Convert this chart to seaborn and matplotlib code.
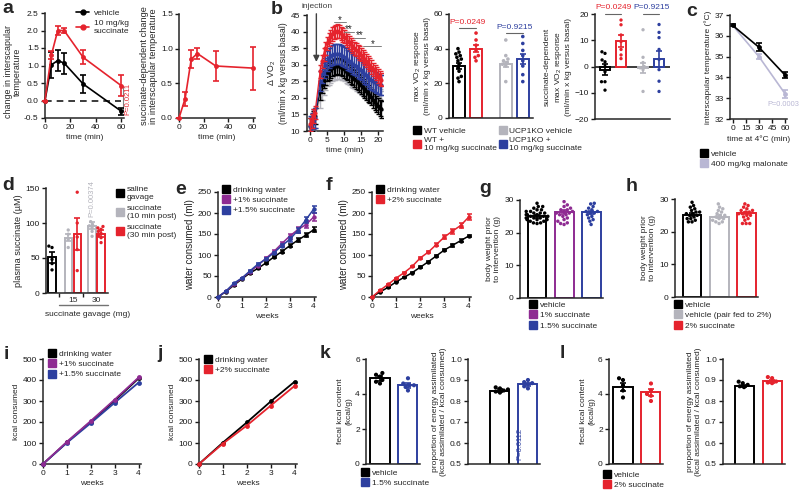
import numpy as np
import pandas as pd
import matplotlib
matplotlib.use("Agg")
import matplotlib.pyplot as plt
import seaborn as sns
from matplotlib.lines import Line2D

# colours
BLACK = "#000000"
RED = "#e5232d"
BLUE = "#2d3f9f"
PURPLE = "#8e2b92"
GRAY = "#b4b4bc"
LAV = "#b9b7d4"

# ---- panel a: interscapular temperature ----
a_time = [0, 5, 10, 15, 30, 60]
a_veh = [0, 1.02, 1.14, 1.07, 0.47, -0.31]
a_veh_err = [0, 0.38, 0.3, 0.3, 0.25, 0.1]
a_suc = [0, 1.3, 2.0, 2.0, 1.23, 0.42]
a_suc_err = [0, 0.12, 0.13, 0.08, 0.2, 0.3]
a_diff = [0, 0.28, 0.85, 0.93, 0.75, 0.72]
a_diff_err = [0, 0.1, 0.13, 0.08, 0.22, 0.31]

# ---- panel b: VO2 time course ----
b_time = [0, 0.5, 1, 1.5, 3, 3.5, 4, 4.5, 5, 5.5, 6, 6.5, 7, 7.5, 8, 8.5, 9, 9.5, 10, 10.5,
          11, 11.5, 12, 12.5, 13, 13.5, 14, 14.5, 15, 15.5, 16, 16.5, 17, 17.5, 18, 18.5,
          19, 19.5, 20, 20.5, 21]
b_wt_veh = [11.5, 12.5, 13.5, 14.5, 22, 24, 25.5, 26.5, 27.5, 28, 28.5, 29, 29.3, 29.5, 29.6,
            29.5, 29.3, 29, 28.6, 28.2, 27.8, 27.3, 26.8, 26.3, 25.8, 25.3, 24.8, 24.3, 23.8,
            23.2, 22.6, 22, 21.4, 20.8, 20.2, 19.5, 18.8, 18.2, 17.6, 17, 16.5]
b_wt_suc = [12, 13, 14.5, 15.5, 28, 31, 33, 35, 36.5, 37.5, 38.5, 39.3, 39.8, 40, 40.2, 40,
            39.5, 39, 38.5, 38, 37.3, 36.8, 36.2, 35.6, 35, 34.5, 34, 33.5, 33, 32.4, 31.8,
            31.2, 30.6, 30, 29.3, 28.6, 28, 27.3, 26.6, 26, 25.5]
b_ko_veh = [11, 12, 13, 14, 20, 22.5, 24, 25.5, 26.5, 27, 27.5, 28, 28.3, 28.5, 28.6, 28.6,
            28.5, 28.3, 28, 27.6, 27.2, 26.8, 26.4, 26, 25.6, 25.2, 24.8, 24.4, 24, 23.6, 23.2,
            22.8, 22.4, 22, 21.6, 21.2, 20.8, 20.4, 20, 19.6, 19.2]
b_ko_suc = [11.5, 12.5, 13.5, 14, 25, 27.5, 29, 30, 31, 32, 32.5, 33, 33.2, 33.3, 33.3, 33.2,
            33, 32.7, 32.3, 32, 31.5, 31.1, 30.7, 30.3, 29.9, 29.5, 29.1, 28.7, 28.3, 27.8,
            27.3, 26.8, 26.3, 25.8, 25.5, 25.2, 24.9, 24.6, 24.3, 24, 23.8]
b_err = [2.5, 2.0, 3.0, 3.0]  # wt veh, wt suc, ko veh, ko suc

# max VO2 response
b_max_mean = [30, 40, 31, 34]
b_max_err = [1.5, 2.2, 1.5, 2.8]
b_max_pts = [
    [40, 38, 37, 36, 35, 34, 33, 31, 29, 27, 24, 23, 21],
    [49, 45, 42, 39, 36, 35, 33],
    [45, 36, 34, 33, 32, 31, 30, 21],
    [47, 43, 39, 36, 33, 30, 25, 21],
]
# succinate-dependent max VO2 response
b_dep_mean = [-1.2, 9.7, -0.5, 3]
b_dep_err = [2.0, 2.3, 1.8, 3.0]
b_dep_pts = [
    [5.6, 5, 2.5, 1.8, 0, -2, -5.8, -5.8, -9],
    [17.7, 15.9, 12, 9.5, 6.5, 4.4, 3],
    [14, 3.5, 1.5, 0, -0.5, -1.2, -9.5],
    [16, 13, 11, 6.5, 2.7, -1.2, -5.6, -9.5],
]

# ---- panel c: cold exposure ----
c_time = [0, 30, 60]
c_veh = [36.5, 35.45, 34.1]
c_veh_err = [0.05, 0.2, 0.15]
c_mal = [36.5, 35.0, 33.2]
c_mal_err = [0.05, 0.12, 0.2]

# ---- panel d: plasma succinate ----
d_mean = [51, 79, 84, 96, 85]
d_err = [8, 5, 23, 5, 5]
d_pts = [
    [67, 65, 48, 42, 33],
    [90, 84, 77, 65],
    [144, 100, 80, 62, 32],
    [102, 98, 96, 93, 88, 81],
    [95, 93, 91, 88, 85, 82, 79, 72],
]

# ---- panels e, f: water consumed ----
ef_weeks = [0, 1 / 3, 2 / 3, 1, 4 / 3, 5 / 3, 2, 7 / 3, 8 / 3, 3, 10 / 3, 11 / 3, 4]
e_water = [0, 13, 28, 43, 57, 68, 81, 95, 108, 122, 135, 147, 160]
e_water_err = [0, 1, 1, 1, 2, 2, 2, 2, 3, 4, 5, 5, 6]
e_suc1 = [0, 14, 30, 45, 60, 75, 92, 108, 127, 145, 160, 172, 190]
e_suc1_err = [0, 1, 1, 1, 2, 2, 3, 4, 5, 6, 7, 8, 9]
e_suc15 = [0, 14, 33, 45, 62, 78, 90, 105, 122, 137, 158, 183, 209]
e_suc15_err = [0, 1, 1, 1, 2, 2, 3, 3, 4, 5, 6, 7, 8]
f_water = [0, 12, 23, 36, 47, 58, 71, 84, 98, 112, 123, 134, 145]
f_water_err = [0, 1, 1, 1, 1, 1, 2, 2, 2, 2, 3, 3, 3]
f_suc2 = [0, 16, 30, 45, 58, 73, 93, 107, 125, 143, 157, 170, 190]
f_suc2_err = [0, 1, 1, 1, 2, 2, 3, 3, 4, 5, 6, 6, 7]

# ---- panels g, h: body weight ----
g_mean = [25, 26.2, 26.2]
g_err = [0.4, 0.6, 0.5]
g_pts = [
    [29, 28, 28, 27.5, 27, 27, 26.5, 26.5, 26, 26, 26, 25.5, 25.5, 25.5, 25, 25, 25, 24.5,
     24.5, 24.5, 24, 24, 24, 23.5, 23.5, 23, 23, 22.8],
    [30.5, 29.5, 28.5, 28, 27.5, 27, 27, 26.5, 26.5, 26, 26, 25.5, 25.5, 25, 24.5, 24, 23.5,
     23, 22.8, 22.5],
    [29, 28.8, 28, 27.5, 27, 26.5, 26.5, 26, 26, 25.5, 25, 24.5, 24, 23.5, 22.5],
]
h_mean = [25.2, 24.6, 25.7]
h_err = [0.4, 0.4, 0.4]
h_pts = [
    [29, 28, 27.5, 27, 26.5, 26, 26, 25.5, 25.5, 25, 25, 24.5, 24, 24, 23.5, 23, 23],
    [28.5, 27.5, 27, 26.5, 26, 25.5, 25, 25, 24.5, 24, 24, 23.5, 23, 23, 22.5],
    [28.5, 28, 27.5, 27, 26.5, 26.5, 26, 26, 25.5, 25.5, 25, 25, 24.5, 24, 23.5, 22.5, 22.5,
     22.5],
]

# ---- panels i, j: kcal consumed ----
ij_weeks = [0, 1, 2, 3, 4]
i_water = [0, 103, 202, 302, 408]
i_suc1 = [0, 106, 205, 307, 412]
i_suc15 = [0, 101, 195, 292, 388]
j_water = [0, 102, 198, 298, 392]
j_suc2 = [0, 97, 183, 278, 372]

# ---- panels k, l: fecal kcal and assimilation ----
k_fecal_mean = [4.9, 4.5]
k_fecal_err = [0.15, 0.15]
k_fecal_pts = [[5.2, 5.1, 5.0, 4.8, 4.7, 4.6], [4.9, 4.6, 4.5, 4.5, 4.4, 4.2]]
k_prop_mean = [0.85, 0.88]
k_prop_err = [0.005, 0.008]
k_prop_pts = [[0.865, 0.86, 0.855, 0.85, 0.845, 0.84], [0.9, 0.89, 0.885, 0.88, 0.87, 0.86]]
l_fecal_mean = [4.4, 4.1]
l_fecal_err = [0.25, 0.2]
l_fecal_pts = [[4.9, 4.8, 4.5, 4.2, 3.8], [4.6, 4.2, 4.0, 3.9, 3.6]]
l_prop_mean = [0.872, 0.893]
l_prop_err = [0.006, 0.007]
l_prop_pts = [[0.892, 0.885, 0.877, 0.87, 0.866], [0.914, 0.909, 0.893, 0.888, 0.885]]

# ---- style ----
sns.set_theme(style="ticks")
plt.rcParams["font.family"] = ["Liberation Sans", "DejaVu Sans"]
plt.rcParams["mathtext.default"] = "regular"
plt.rcParams["axes.linewidth"] = 1.1
plt.rcParams["axes.labelsize"] = 6
plt.rcParams["axes.labelpad"] = 2

W, H = 800, 492
fig = plt.figure(figsize=(8, 4.92), dpi=100)
FS = 6
BIG = 7


def add_ax(left, top, right, bottom):
    ax = fig.add_axes([left / W, 1 - bottom / H, (right - left) / W, (bottom - top) / H])
    ax.set_facecolor("none")
    sns.despine(ax=ax)
    ax.tick_params(labelsize=FS, length=3, width=1, pad=1.5, color="k", labelcolor="k")
    return ax


def draw_lines(ax, x, ys, errs, colors, ms=3.5, lw=1.2, cap=2):
    for y, e, c in zip(ys, errs, colors):
        sns.lineplot(x=x, y=y, color=c, marker="o", markersize=ms, markeredgewidth=0,
                     linewidth=lw, ax=ax, clip_on=False, zorder=3)
        if e is not None:
            ax.errorbar(x, y, yerr=e, fmt="none", ecolor=c, elinewidth=lw, capsize=cap,
                        capthick=lw, clip_on=False, zorder=3)


def draw_bars(ax, pos, means, errs, groups, colors, width, size=2.6, cap=2.5):
    for p, m, c in zip(pos, means, colors):
        ax.bar(p, m, width=width, color="white", edgecolor=c, linewidth=1.4, zorder=1)
    n = [len(g) for g in groups]
    df = pd.DataFrame({"pos": np.repeat(pos, n), "val": np.concatenate(groups),
                       "grp": np.repeat([str(k) for k in range(len(groups))], n)})
    sns.swarmplot(data=df, x="pos", y="val", hue="grp", palette=colors, native_scale=True,
                  size=size, legend=False, ax=ax, zorder=2)
    for p, m, e, c in zip(pos, means, errs, colors):
        ax.errorbar(p, m, yerr=e, fmt="none", ecolor=c, elinewidth=1.2, capsize=cap,
                    capthick=1.2, zorder=4)
    ax.set_xlabel("")
    ax.set_ylabel("")
    ax.set_xticks([])


def sq_legend(ax, labels, colors, x, y, ncol=1, ms=6, spacing=0.3, **kw):
    handles = [Line2D([], [], marker="s", ls="none", color=c, markersize=ms) for c in colors]
    leg = ax.legend(handles, labels, loc="upper left", bbox_to_anchor=(x / W, 1 - y / H),
                    bbox_transform=fig.transFigure, frameon=False, fontsize=FS, ncol=ncol,
                    handletextpad=0.3, labelspacing=spacing, borderpad=0, borderaxespad=0,
                    handlelength=1, **kw)
    return leg


def letter(x, y, s):
    fig.text(x / W, 1 - y / H, s, fontsize=14, fontweight="bold", va="top", ha="left")


# ---- a (left) ----
ax = add_ax(45, 13, 124, 118)
ax.plot([0, 60], [0, 0], color="k", lw=1.2, ls=(0, (4, 3)), zorder=1)
draw_lines(ax, a_time, [a_veh, a_suc], [a_veh_err, a_suc_err], [BLACK, RED])
ax.set_xlim(0, 62)
ax.set_ylim(-0.5, 2.5)
ax.set_xticks([0, 20, 40, 60])
ax.set_yticks([-0.5, 0, 0.5, 1, 1.5, 2, 2.5])
ax.set_yticklabels(["-0.5", "0.0", "0.5", "1.0", "1.5", "2.0", "2.5"])
ax.set_xlabel("time (min)")
ax.set_ylabel("change in interscapular\ntemperature", fontsize=6.4, linespacing=1.0)
ax.yaxis.set_label_coords(-0.29, 0.44)
ax.plot([61.5, 61.5], [0.42, -0.31], color="0.5", lw=0.8, clip_on=False)
ax.text(65.3, 0.05, "P=0.0211", rotation=90, color=RED, fontsize=5.5, ha="center",
        va="center", clip_on=False)
lh = [Line2D([], [], color=c, marker="o", markersize=3.5, lw=1.2) for c in [BLACK, RED]]
ax.legend(lh, ["vehicle", "10 mg/kg\nsuccinate"], loc="upper left",
          bbox_to_anchor=(76 / W, 1 - 9 / H), bbox_transform=fig.transFigure, frameon=False,
          fontsize=FS, handlelength=1.6, handletextpad=0.5, labelspacing=0.4, borderpad=0,
          borderaxespad=0)

# ---- a (right) ----
ax = add_ax(179, 14, 255, 118)
draw_lines(ax, a_time, [a_diff], [a_diff_err], [RED])
ax.set_xlim(0, 62)
ax.set_ylim(0, 1.5)
ax.set_xticks([0, 20, 40, 60])
ax.set_yticks([0, 0.5, 1, 1.5])
ax.set_yticklabels(["0.0", "0.5", "1.0", "1.5"])
ax.set_xlabel("time (min)")
ax.set_ylabel("succinate-dependent change\nin interscapular temperature", fontsize=6.7,
              linespacing=1.0)

# ---- b time course ----
ax = add_ax(306.5, 15, 383, 131)
for y, e, c in zip([b_ko_veh, b_wt_veh, b_ko_suc, b_wt_suc], [b_err[2], b_err[0], b_err[3], b_err[1]],
                   [GRAY, BLACK, BLUE, RED]):
    sns.lineplot(x=b_time, y=y, color=c, marker="o", markersize=3, markeredgewidth=0,
                 linewidth=0.9, ax=ax, clip_on=False, zorder=3)
    ax.errorbar(b_time, y, yerr=e, fmt="none", ecolor=c, elinewidth=1, capsize=1.8,
                capthick=1, zorder=3)
ax.set_xlim(-1, 21.5)
ax.set_ylim(10, 45)
ax.set_xticks([0, 5, 10, 15, 20])
ax.set_yticks([10, 15, 20, 25, 30, 35, 40, 45])
ax.set_xlabel("time (min)")
ax.set_ylabel("Δ VO$_2$\n(ml/min x kg versus basal)", fontsize=6.3)
ax.annotate("", xy=(1.9, 30), xytext=(1.9, 46.2),
            arrowprops=dict(arrowstyle="-|>", color="0.25", lw=1, mutation_scale=9),
            annotation_clip=False)
ax.text(2.1, 47.7, "injection", fontsize=FS, ha="center", va="center", color="0.25",
        clip_on=False)
for xs, y, s in [((7.1, 10.5), 42.8, "*"), ((10, 12.9), 39.9, "**"),
                 ((12.9, 16.2), 38.2, "**"), ((15.7, 21), 35.6, "*")]:
    ax.plot(xs, [y, y], color="0.5", lw=0.7, zorder=5)
    ax.text(np.mean(xs), y - 0.8, s, fontsize=7, ha="center", va="bottom", zorder=5)

# ---- b max VO2 ----
ax = add_ax(449, 14, 533, 118)
b_pos = [0, 1, 2.75, 3.75]
draw_bars(ax, b_pos, b_max_mean, b_max_err, b_max_pts, [BLACK, RED, GRAY, BLUE], 0.7)
ax.set_xlim(-0.59, 4.35)
ax.set_ylim(0, 60)
ax.set_yticks([0, 20, 40, 60])
ax.set_ylabel("max VO$_2$ response\n(ml/min x kg versus basal)")
ax.plot([0, 1], [52, 52], color="0.4", lw=0.8)
ax.text(0.5, 53, "P=0.0249", color=RED, fontsize=FS, ha="center", va="bottom")
ax.plot([2.75, 3.75], [49, 49], color="0.4", lw=0.8)
ax.text(3.25, 50, "P=0.9215", color=BLUE, fontsize=FS, ha="center", va="bottom")
sq_legend(ax, ["WT vehicle", "WT +\n10 mg/kg succinate", "UCP1KO vehicle",
               "UCP1KO +\n10 mg/kg succinate"], [BLACK, RED, GRAY, BLUE], 413, 127, ncol=2,
          columnspacing=0.2)

# ---- b succinate-dependent ----
ax = add_ax(595, 14, 670, 119)
b_pos2 = [0, 1, 2.375, 3.375]
draw_bars(ax, b_pos2, b_dep_mean, b_dep_err, b_dep_pts, [BLACK, RED, GRAY, BLUE], 0.65,
          size=2.4)
ax.axhline(0, color="k", lw=1.2, zorder=0)
ax.set_xlim(-0.625, 4.06)
ax.set_ylim(-20, 20)
ax.set_yticks([-20, -10, 0, 10, 20])
ax.set_ylabel("succinate-dependent\nmax VO$_2$ response\n(ml/min x kg versus basal)")
ax.plot([0, 1], [20, 20], color="0.4", lw=0.8, clip_on=False)
ax.text(0.5, 21, "P=0.0249", color=RED, fontsize=FS, ha="center", va="bottom")
ax.plot([2.375, 3.375], [20, 20], color="0.4", lw=0.8, clip_on=False)
ax.text(2.9, 21, "P=0.9215", color=BLUE, fontsize=FS, ha="center", va="bottom")

# ---- c ----
ax = add_ax(730, 15, 787, 119)
draw_lines(ax, c_time, [c_mal, c_veh], [c_mal_err, c_veh_err], [LAV, BLACK])
ax.set_xlim(-3, 62)
ax.set_ylim(32, 37)
ax.set_xticks([0, 15, 30, 45, 60])
ax.set_yticks([32, 33, 34, 35, 36, 37])
ax.set_xlabel("time at 4°C (min)")
ax.set_ylabel("interscapular temperature (°C)")
fig.text(799 / W, 1 - 104 / H, "P=0.0003", color=LAV, fontsize=5.3, ha="right", va="center")
sq_legend(ax, ["vehicle", "400 mg/kg malonate"], [BLACK, LAV], 700, 150)

# ---- d ----
ax = add_ax(46, 188, 108, 293)
d_pos = [0, 1.8, 2.8, 4.45, 5.45]
draw_bars(ax, d_pos, d_mean, d_err, d_pts, [BLACK, GRAY, RED, GRAY, RED], 0.8, size=2.4)
ax.set_xlim(-0.67, 6.22)
ax.set_ylim(0, 150)
ax.set_yticks([0, 50, 100, 150])
ax.set_xticks([0.78, 3.44])
ax.set_xticklabels([])
ax.set_ylabel("plasma succinate (µM)", fontsize=6.6)
ax.text(2.3, -5, "15", fontsize=FS, ha="center", va="top")
ax.text(4.95, -5, "30", fontsize=FS, ha="center", va="top")
ax.plot([0.78, 6.22], [-0.115, -0.115], color="0.45", lw=1,
        transform=ax.get_xaxis_transform(), clip_on=False)
ax.text(4.0, -0.17, "succinate gavage (mg)", fontsize=FS, ha="center", va="top",
        transform=ax.get_xaxis_transform())
ax.text(4.4, 108, "P=0.00374", rotation=90, color=GRAY, fontsize=5.5, ha="center",
        va="bottom")
sq_legend(ax, ["saline\ngavage", "succinate\n(10 min post)", "succinate\n(30 min post)"],
          [BLACK, GRAY, RED], 116, 186, spacing=0.5)

# ---- e ----
ax = add_ax(218, 192, 316, 297)
draw_lines(ax, ef_weeks, [e_water, e_suc1, e_suc15], [e_water_err, e_suc1_err, e_suc15_err],
           [BLACK, PURPLE, BLUE], ms=3.2, lw=1.1, cap=1.8)
ax.set_xlim(0, 4.1)
ax.set_ylim(0, 250)
ax.set_xticks([0, 1, 2, 3, 4])
ax.set_yticks([0, 50, 100, 150, 200, 250])
ax.set_xlabel("weeks")
ax.set_ylabel("water consumed (ml)", fontsize=BIG)
sq_legend(ax, ["drinking water", "+1% succinate", "+1.5% succinate"], [BLACK, PURPLE, BLUE],
          222, 186)

# ---- f ----
ax = add_ax(372, 192, 471, 297)
draw_lines(ax, ef_weeks, [f_water, f_suc2], [f_water_err, f_suc2_err], [BLACK, RED],
           ms=3.2, lw=1.1, cap=1.8)
ax.set_xlim(0, 4.1)
ax.set_ylim(0, 250)
ax.set_xticks([0, 1, 2, 3, 4])
ax.set_yticks([0, 50, 100, 150, 200, 250])
ax.set_xlabel("weeks")
ax.set_ylabel("water consumed (ml)", fontsize=BIG)
sq_legend(ax, ["drinking water", "+2% succinate"], [BLACK, RED], 376, 186)

# ---- g ----
ax = add_ax(520, 200, 603, 298)
draw_bars(ax, [0, 1, 2], g_mean, g_err, g_pts, [BLACK, PURPLE, BLUE], 0.7, size=2.5)
ax.set_xlim(-0.63, 2.44)
ax.set_ylim(0, 30)
ax.set_yticks([0, 10, 20, 30])
ax.set_ylabel("body weight prior\nto intervention (g)")
sq_legend(ax, ["vehicle", "1% succinate", "1.5% succinate"], [BLACK, PURPLE, BLUE], 529, 301)

# ---- h ----
ax = add_ax(675, 199, 758, 297)
draw_bars(ax, [0, 1, 2], h_mean, h_err, h_pts, [BLACK, GRAY, RED], 0.7, size=2.5)
ax.set_xlim(-0.63, 2.44)
ax.set_ylim(0, 30)
ax.set_yticks([0, 10, 20, 30])
ax.set_ylabel("body weight prior\nto intervention (g)")
sq_legend(ax, ["vehicle", "vehicle (pair fed to 2%)", "2% succinate"], [BLACK, GRAY, RED],
          674, 301)

# ---- i ----
ax = add_ax(43, 359, 141, 464)
draw_lines(ax, ij_weeks, [i_water, i_suc15, i_suc1], [None, None, None],
           [BLACK, BLUE, PURPLE], ms=3.5, lw=1.3, cap=0)
ax.set_xlim(0, 4.1)
ax.set_ylim(0, 500)
ax.set_xticks([0, 1, 2, 3, 4])
ax.set_yticks([0, 100, 200, 300, 400, 500])
ax.set_xlabel("weeks")
ax.set_ylabel("kcal consumed")
sq_legend(ax, ["drinking water", "+1% succinate", "+1.5% succinate"], [BLACK, PURPLE, BLUE],
          48, 350)

# ---- j ----
ax = add_ax(199, 359, 297, 464)
draw_lines(ax, ij_weeks, [j_water, j_suc2], [None, None], [BLACK, RED], ms=3.5, lw=1.3, cap=0)
ax.set_xlim(0, 4.1)
ax.set_ylim(0, 500)
ax.set_xticks([0, 1, 2, 3, 4])
ax.set_yticks([0, 100, 200, 300, 400, 500])
ax.set_xlabel("weeks")
ax.set_ylabel("kcal consumed")
sq_legend(ax, ["drinking water", "+2% succinate"], [BLACK, RED], 204, 356)

# ---- k ----
ax = add_ax(366, 359, 420, 464)
draw_bars(ax, [0, 1], k_fecal_mean, k_fecal_err, k_fecal_pts, [BLACK, BLUE], 0.68, size=3)
ax.set_xlim(-0.5, 1.43)
ax.set_ylim(0, 6)
ax.set_yticks([0, 2, 4, 6])
ax.set_ylabel("fecal kcal content\n(kcal/g)")
sq_legend(ax, ["vehicle", "1.5% succinate"], [BLACK, BLUE], 361, 469)

ax = add_ax(468, 359, 540, 464)
draw_bars(ax, [0, 1], k_prop_mean, k_prop_err, k_prop_pts, [BLACK, BLUE], 0.68, size=3)
ax.set_xlim(-1.14, 1.43)
ax.set_ylim(0.5, 1.0)
ax.set_yticks([0.5, 0.6, 0.7, 0.8, 0.9, 1.0])
ax.set_yticklabels(["0.5", "0.6", "0.7", "0.8", "0.9", "1.0"])
ax.set_ylabel("proportion of energy assimilated\n(kcal assimilated / kcal consumed)")
ax.text(0.72, 0.52, "P=0.0112", rotation=90, color=BLUE, fontsize=5.5, ha="center",
        va="bottom")

# ---- l ----
ax = add_ax(609, 359, 663, 464)
draw_bars(ax, [0, 1], l_fecal_mean, l_fecal_err, l_fecal_pts, [BLACK, RED], 0.68, size=3)
ax.set_xlim(-0.5, 1.43)
ax.set_ylim(0, 6)
ax.set_yticks([0, 2, 4, 6])
ax.set_ylabel("fecal kcal content\n(kcal/g)")
sq_legend(ax, ["vehicle", "2% succinate"], [BLACK, RED], 603, 471)

ax = add_ax(723, 359, 785, 464)
draw_bars(ax, [0, 1], l_prop_mean, l_prop_err, l_prop_pts, [BLACK, RED], 0.68, size=3)
ax.set_xlim(-0.75, 1.46)
ax.set_ylim(0.5, 1.0)
ax.set_yticks([0.5, 0.6, 0.7, 0.8, 0.9, 1.0])
ax.set_yticklabels(["0.5", "0.6", "0.7", "0.8", "0.9", "1.0"])
ax.set_ylabel("proportion of energy assimilated\n(kcal assimilated / kcal consumed)")

# panel letters
for x, y, s in [(2, 0, "a"), (271, 1, "b"), (686, 3, "c"), (2, 177, "d"), (175, 181, "e"),
                (326, 177, "f"), (479, 180, "g"), (626, 178, "h"), (4, 346, "i"),
                (157, 345, "j"), (320, 345, "k"), (560, 345, "l")]:
    letter(x, y, s)

fig.savefig("out.png", dpi=100)
